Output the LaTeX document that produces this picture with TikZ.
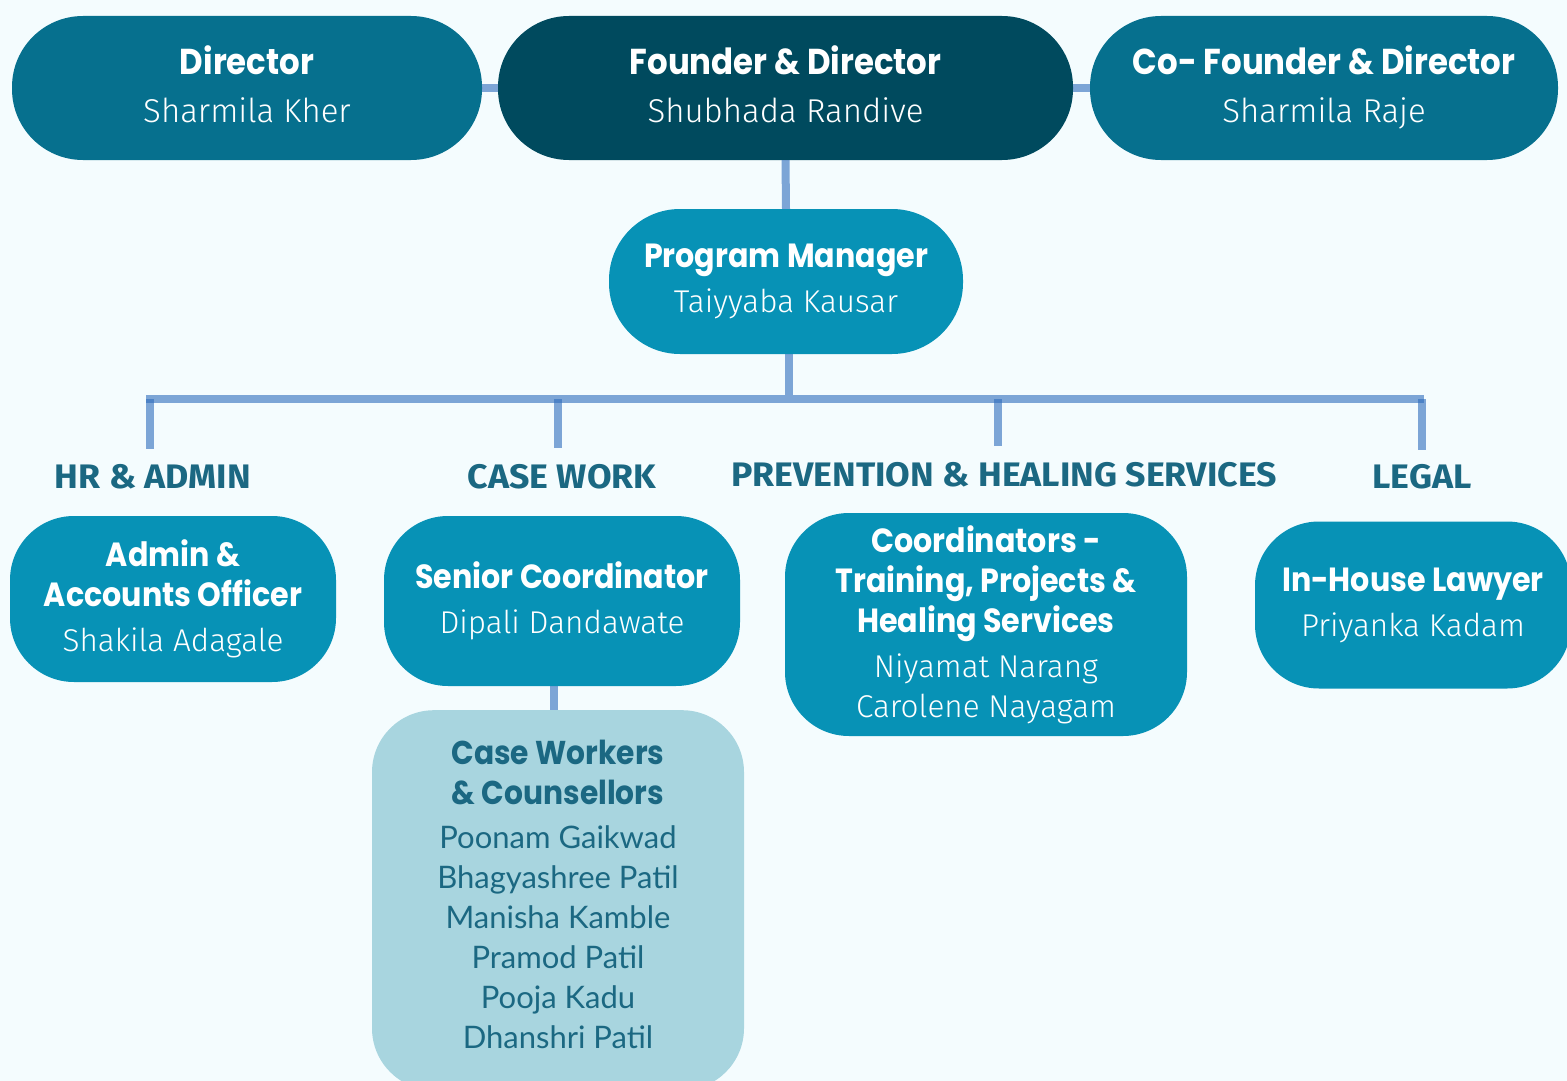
\documentclass[tikz,border=0pt]{standalone}
\usepackage{fontspec}
\setmainfont{Fira Sans}
\newfontfamily\headfont[FakeStretch=0.9]{Poppins}
\IfFontExistsTF{Fira Sans Light}
  {\newfontfamily\namefont{Fira Sans Light}}
  {\newfontfamily\namefont{Fira Sans}}
\newfontfamily\secfont[FakeStretch=1.05]{Fira Sans}
\newfontfamily\cwfont{Lato}
\definecolor{bgc}{HTML}{F4FCFE}
\definecolor{midteal}{HTML}{06708E}
\definecolor{darkteal}{HTML}{004A5E}
\definecolor{boxteal}{HTML}{0792B6}
\definecolor{lightbox}{HTML}{A8D5DF}
\definecolor{labelc}{HTML}{1B6882}
\definecolor{linec}{RGB}{45,107,188}
\newcommand\tttl[1]{{\headfont\bfseries\fontsize{36}{40}\selectfont #1}}
\newcommand\tnm[1]{{\namefont\fontsize{33}{40}\selectfont #1\rule[-7pt]{0pt}{7pt}}}
\newcommand\ttl[1]{{\headfont\bfseries\fontsize{33.5}{40}\selectfont #1}}
\newcommand\nm[1]{{\namefont\fontsize{31.5}{40}\selectfont #1}}
\newcommand\cwt[1]{{\headfont\bfseries\fontsize{33}{40}\selectfont #1}}
\newcommand\cwn[1]{{\cwfont\fontsize{31}{40}\selectfont #1}}
\tikzset{
  orgbox/.style={rectangle, draw=none, align=center, text=white, inner sep=0pt,
     font=\fontsize{31}{40}\selectfont},
  toprow/.style={orgbox, minimum height=144pt, rounded corners=71pt},
  secbox/.style={orgbox, fill=boxteal, rounded corners=64pt},
  seclabel/.style={text=labelc, inner sep=0pt, font=\secfont\bfseries\fontsize{34}{40}\selectfont},
  link/.style={draw=linec, draw opacity=0.6, line width=8pt},
}
\begin{document}
\begin{tikzpicture}[x=1pt,y=-1pt]
\useasboundingbox (0,0) rectangle (1567,1081);
\fill[bgc] (0,0) rectangle (1567,1081);

% top row
\node[toprow, fill=midteal, minimum width=470pt] (dir) at (247,88)
  {\tttl{Director}\\[8pt]\tnm{Sharmila Kher}};
\node[toprow, fill=darkteal, minimum width=575pt] (fnd) at (785.5,88)
  {\tttl{Founder \& Director}\\[8pt]\tnm{Shubhada Randive}};
\node[toprow, fill=midteal, minimum width=468pt] (cof) at (1324,88)
  {\tttl{Co- Founder \& Director}\\[8pt]\tnm{Sharmila Raje}};

% program manager
\node[orgbox, fill=boxteal, minimum width=354pt, minimum height=145pt, rounded corners=71pt] (pm) at (786,281.5)
  {\ttl{Program Manager}\\[5pt]\nm{Taiyyaba Kausar}};

% section labels
\node[seclabel] (hr) at (153,477) {HR \& ADMIN};
\node[seclabel] (cs) at (562,477) {CASE WORK};
\node[seclabel] (pv) at (1004,475) {PREVENTION \& HEALING SERVICES};
\node[seclabel] (lg) at (1422,477) {LEGAL};

% section boxes
\node[secbox, minimum width=326pt, minimum height=166pt] (adm) at (173,599)
  {\ttl{Admin \&}\\\ttl{Accounts Officer}\\[5pt]\nm{Shakila Adagale}};
\node[secbox, minimum width=356pt, minimum height=170pt] (sen) at (562,601)
  {\ttl{Senior Coordinator}\\[5pt]\nm{Dipali Dandawate}};
\node[secbox, minimum width=402pt, minimum height=223pt] (crd) at (986,624.5)
  {\ttl{Coordinators -}\\\ttl{Training, Projects \&}\\\ttl{Healing Services}\\[5pt]\nm{Niyamat Narang}\\\nm{Carolene Nayagam}};
\node[secbox, minimum width=316pt, minimum height=167pt] (law) at (1413,605)
  {\ttl{In-House Lawyer}\\[5pt]\nm{Priyanka Kadam}};

% case workers
\node[orgbox, fill=lightbox, text=labelc, minimum width=372pt, minimum height=380pt, rounded corners=62pt, anchor=north] (cw) at (558,710)
  {\cwt{Case Workers}\\\cwt{\& Counsellors}\\[4pt]\cwn{Poonam Gaikwad}\\\cwn{Bhagyashree Patil}\\\cwn{Manisha Kamble}\\\cwn{Pramod Patil}\\\cwn{Pooja Kadu}\\\cwn{Dhanshri Patil}\rule[-12pt]{0pt}{12pt}};

% connectors
\coordinate (busL) at (146,399);
\coordinate (busR) at (1424,399);
\coordinate (b1) at (150,399);
\coordinate (b2) at (558,399);
\coordinate (b3) at (998,399);
\coordinate (b4) at (1422,399);
\coordinate (e1) at (150,449);
\coordinate (e2) at (558,448);
\coordinate (e3) at (998,446);
\coordinate (e4) at (1422,450);
\coordinate (bm) at (789,399);

\draw[link] (dir.east) -- (fnd.west);
\draw[link] (fnd.east) -- (cof.west);
\draw[link] (fnd.south) -- (pm.north);
\draw[link] ([xshift=3pt]pm.south) -- ([yshift=4pt]bm);
\draw[link] (busL) -- (busR);
\draw[link] (b1) -- (e1);
\draw[link] (b2) -- (e2);
\draw[link] (b3) -- (e3);
\draw[link] (b4) -- (e4);
\draw[link] ([xshift=-8pt]sen.south) -- ([xshift=-8pt]sen.south |- cw.north);
\end{tikzpicture}
\end{document}
